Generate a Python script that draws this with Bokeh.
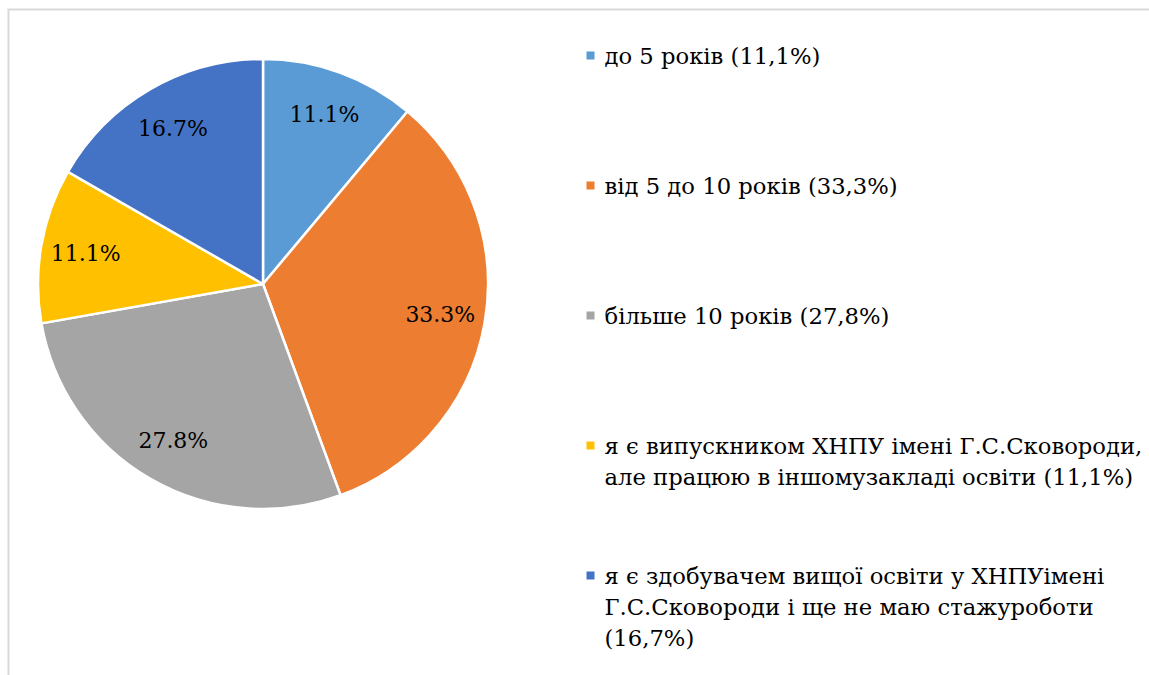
import numpy as np
from bokeh.plotting import figure
from bokeh.models import Range1d, ColumnDataSource
from bokeh.core.properties import value
from bokeh.embed import file_html
from bokeh.resources import INLINE

# ---- data ----
categories = [
    ["до 5 років (11,1%)"],
    ["від 5 до 10 років (33,3%)"],
    ["більше 10 років (27,8%)"],
    ["я є випускником ХНПУ імені Г.С.Сковороди,", "але працюю в іншомузакладі освіти (11,1%)"],
    ["я є здобувачем вищої освіти у ХНПУімені", "Г.С.Сковороди  і ще не маю стажуроботи", "(16,7%)"],
]
shares = [11.1, 33.3, 27.8, 11.1, 16.7]
data_labels = ["11.1%", "33.3%", "27.8%", "11.1%", "16.7%"]
colors = ["#5B9BD5", "#ED7D31", "#A5A5A5", "#FFC000", "#4472C4"]

# ---- layout (figure pixels; y measured upward) ----
W, H = 1149, 675
FONT = "DejaVu Serif"
cx, cy, R = 262.5, H - 283.5, 225

p = figure(width=W, height=H, output_backend="svg", toolbar_location=None,
           x_range=Range1d(0, W), y_range=Range1d(0, H), min_border=0)
p.axis.visible = False
p.grid.visible = False
p.outline_line_color = None
p.background_fill_color = "white"
p.border_fill_color = "white"

vals = np.array(shares, dtype=float)
frac = vals / vals.sum()
cum = np.concatenate([[0], np.cumsum(frac)])
start = np.pi / 2 - cum[:-1] * 2 * np.pi
end = np.pi / 2 - cum[1:] * 2 * np.pi
mid = (start + end) / 2

src = ColumnDataSource(dict(start=start, end=end, color=colors))
p.wedge(x=cx, y=cy, radius=R, start_angle="start", end_angle="end",
        direction="clock", fill_color="color", line_color="white",
        line_width=2.5, source=src)

lr = 0.8 * R
p.text(x=cx + lr * np.cos(mid), y=cy + lr * np.sin(mid), text=data_labels,
       text_font=value(FONT), text_font_size="22px", text_color="#000000",
       text_align="center", text_baseline="middle")

# legend
leg_x_marker = 590
leg_x_text = 604
entry_y0 = H - 55
entry_gap = 130
line_gap = 31
mx, my, mc = [], [], []
tx, ty, tt = [], [], []
for i, lines in enumerate(categories):
    y0 = entry_y0 - i * entry_gap
    mx.append(leg_x_marker)
    my.append(y0)
    mc.append(colors[i])
    for j, ln in enumerate(lines):
        tx.append(leg_x_text)
        ty.append(y0 - j * line_gap)
        tt.append(ln)
p.scatter(x=mx, y=my, marker="square", size=8, fill_color=mc, line_color=None)
p.text(x=tx, y=ty, text=tt, text_font=value(FONT), text_font_size="22.7px",
       text_color="#000000", text_align="left", text_baseline="middle")

# chart-area border (left and top visible)
p.line(x=[8, 8], y=[0, H - 9], line_color="#D9D9D9", line_width=2)
p.line(x=[7, W], y=[H - 9, H - 9], line_color="#D9D9D9", line_width=2)

open("out.html", "w").write(file_html(p, INLINE))
